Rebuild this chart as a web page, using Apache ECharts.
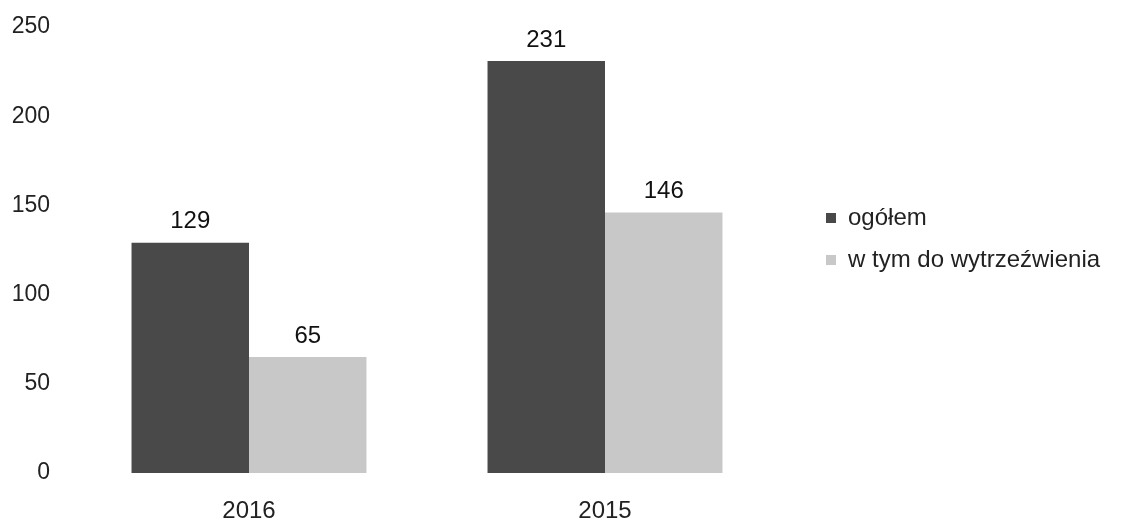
<!DOCTYPE html>
<html>
<head>
<meta charset="utf-8">
<script src="https://cdn.jsdelivr.net/npm/echarts@6/dist/echarts.min.js"></script>
<style>html,body{margin:0;padding:0;background:#fff;}#c{width:1132px;height:527px;}</style>
</head>
<body>
<div id="c"></div>
<script>
const categories = ['2016', '2015'];
const ogolem = [129, 231];
const doWytrzezwienia = [65, 146];
const seriesNames = ['ogółem', 'w tym do wytrzeźwienia'];

const chart = echarts.init(document.getElementById('c'), null, {renderer: 'canvas'});
const font = 'Liberation Sans, Arial, sans-serif';
chart.setOption({
  animation: false,
  backgroundColor: '#ffffff',
  grid: {left: 71, right: 349, top: 27, bottom: 54},
  legend: {
    orient: 'vertical',
    left: 821, top: 201,
    itemWidth: 10, itemHeight: 10, itemGap: 18,
    icon: 'rect',
    textStyle: {fontFamily: font, fontSize: 24, color: '#222', padding: [0, 0, 0, 7]},
    data: seriesNames
  },
  xAxis: {
    type: 'category',
    data: categories,
    axisLine: {show: false},
    axisTick: {show: false},
    axisLabel: {fontFamily: font, fontSize: 24, color: '#222', margin: 26}
  },
  yAxis: {
    type: 'value',
    min: 0, max: 250, interval: 50,
    axisLine: {show: false},
    axisTick: {show: false},
    splitLine: {show: false},
    axisLabel: {fontFamily: font, fontSize: 23, color: '#222', margin: 21}
  },
  series: [
    {
      name: seriesNames[0], type: 'bar', data: ogolem,
      barGap: '0%', barCategoryGap: '34%',
      itemStyle: {color: '#494949'},
      label: {show: true, position: 'top', distance: 9, fontFamily: font, fontSize: 24, color: '#111'}
    },
    {
      name: seriesNames[1], type: 'bar', data: doWytrzezwienia,
      barGap: '0%', barCategoryGap: '34%',
      itemStyle: {color: '#c8c8c8'},
      label: {show: true, position: 'top', distance: 9, fontFamily: font, fontSize: 24, color: '#111'}
    }
  ]
});
</script>
</body>
</html>
